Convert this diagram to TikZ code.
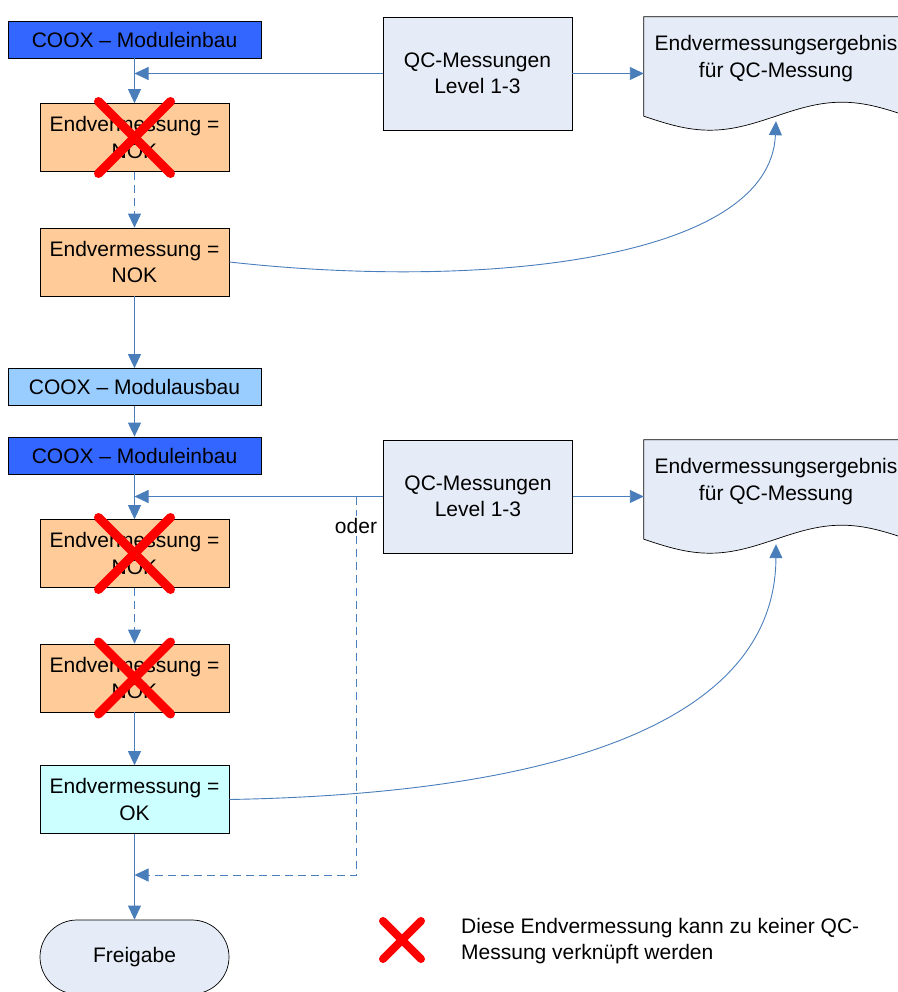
\documentclass[tikz,border=0pt]{standalone}
\usepackage{fontspec}
\setmainfont{Liberation Sans}
\usetikzlibrary{arrows.meta}
\definecolor{linkblue}{RGB}{74,126,187}
\definecolor{einbau}{RGB}{51,102,255}
\definecolor{ausbau}{RGB}{153,204,255}
\definecolor{nokfill}{RGB}{255,204,153}
\definecolor{okfill}{RGB}{204,255,255}
\definecolor{qcfill}{RGB}{230,236,247}
\tikzset{
  font=\fontsize{21}{26.5}\selectfont,
  % Set arrowhead
  >={Triangle[length=14pt,width=13pt]},
  % Connectors
  conn/.style={draw=linkblue, line width=0.9pt, ->},
  dconn/.style={conn, dash pattern=on 8pt off 5pt},
  % General box
  box/.style={draw, line width=0.7pt, shape=rectangle, align=center,
    inner sep=0pt, minimum width=189pt, minimum height=68pt},
  % COOX steps
  modbox/.style={box, minimum width=253pt, minimum height=37pt},
  % Measurement results
  nokbox/.style={box, fill=nokfill},
  okbox/.style={box, fill=okfill},
  % QC node
  qcbox/.style={box, fill=qcfill, minimum width=189pt, minimum height=113pt},
  % Document area (shape drawn separately)
  docarea/.style={shape=rectangle, inner sep=0pt, minimum width=264pt,
    minimum height=99pt},
  doctext/.style={align=center, inner sep=0pt},
  % Terminal
  endbox/.style={box, fill=qcfill, rounded corners=37pt, minimum height=74pt},
  % Red cross
  cross/.style={draw=red, line width=9pt, line cap=round},
}

\begin{document}
\begin{tikzpicture}[x=1pt, y=-1pt]
  \useasboundingbox (0,0) rectangle (897,992);

  % first attempt
  \node[modbox, fill=einbau] (mod1) at (134.5,39.5) {COOX -- Moduleinbau};
  \node[nokbox] (nok1) at (134.5,137.5) {Endvermessung =\\NOK};
  \node[nokbox] (nok2) at (134.5,262) {Endvermessung =\\NOK};
  \node[qcbox] (qc1) at (477.5,73.5) {QC-Messungen\\Level 1-3};
  \node[docarea] (doc1) at (776,66.5) {};
  \filldraw[fill=qcfill, line width=0.7pt] (doc1.south west) sin ++(66,14)
    cos ++(66,-14) sin ++(66,-14) cos ++(66,14) -- (doc1.north east) --
    (doc1.north west) -- cycle;
  \node[doctext] (doc1t) at ([yshift=8pt]doc1.center)
    {Endvermessungsergebnis\\f\"ur QC-Messung};

  % second attempt
  \node[modbox, fill=ausbau] (aus) at (134.5,387) {COOX -- Modulausbau};
  \node[modbox, fill=einbau] (mod2) at (134.5,455.5) {COOX -- Moduleinbau};
  \node[nokbox] (nok3) at (134.5,553.5) {Endvermessung =\\NOK};
  \node[nokbox] (nok4) at (134.5,678) {Endvermessung =\\NOK};
  \node[okbox] (ok) at (134.5,799.5) {Endvermessung =\\OK};
  \node[qcbox] (qc2) at (478,496.5) {QC-Messungen\\Level 1-3};
  \node[docarea] (doc2) at (776,489.5) {};
  \filldraw[fill=qcfill, line width=0.7pt] (doc2.south west) sin ++(66,14)
    cos ++(66,-14) sin ++(66,-14) cos ++(66,14) -- (doc2.north east) --
    (doc2.north west) -- cycle;
  \node[doctext] (doc2t) at ([yshift=8pt]doc2.center)
    {Endvermessungsergebnis\\f\"ur QC-Messung};
  \node[endbox] (frei) at (134.5,957) {Freigabe};

  % connectors
  \draw[conn] (mod1.south) -- (nok1.north);
  \draw[conn] (qc1.west) -- (qc1.west -| mod1.south);
  \draw[conn] (qc1.east) -- (qc1.east -| doc1.west);
  \draw[dconn] (nok1.south) -- (nok2.north);
  \draw[conn] (nok2.east) .. controls +(251,28) and +(-6,140) ..
    ([yshift=-5pt]doc1.south);
  \draw[conn] (nok2.south) -- (aus.north);
  \draw[conn] (aus.south) -- (mod2.north);
  \draw[conn] (mod2.south) -- (nok3.north);
  \draw[conn] (qc2.west) -- (qc2.west -| mod2.south);
  \draw[conn] (qc2.east) -- (qc2.east -| doc2.west);
  \draw[dconn] (nok3.south) -- (nok4.north);
  \draw[conn] (nok4.south) -- (ok.north);
  \draw[conn] (ok.east) .. controls +(221,-4) and +(-1,215) ..
    ([yshift=-5pt]doc2.south);
  \draw[conn] (ok.south) -- (frei.north);

  % alternative path
  \coordinate (split) at (356,496.5);
  \coordinate (ret) at (356,875);
  \draw[dconn] (split) -- (ret) -- (ret -| ok.south);
  \node[fill=white, inner sep=2pt] (oder) at (356,526) {oder};

  % crossed out measurements
  \foreach \n in {nok1, nok3, nok4}{
    \draw[cross] ([shift={(-36,-36)}]\n.center) -- ([shift={(36,36)}]\n.center);
    \draw[cross] ([shift={(-36,36)}]\n.center) -- ([shift={(36,-36)}]\n.center);
  }

  % legend
  \coordinate (legx) at (402,940);
  \draw[cross, line width=8pt] ([shift={(-19,-19)}]legx) -- ([shift={(19,19)}]legx);
  \draw[cross, line width=8pt] ([shift={(-19,19)}]legx) -- ([shift={(19,-19)}]legx);
  \node[anchor=west, align=left, inner sep=0pt] (legtext) at (461,941)
    {Diese Endvermessung kann zu keiner QC-\\Messung verkn\"upft werden};
\end{tikzpicture}
\end{document}
